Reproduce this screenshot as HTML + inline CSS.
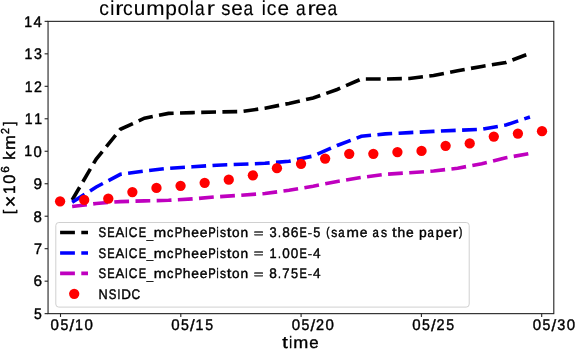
<!DOCTYPE html><html><head><meta charset="utf-8"><title>circumpolar sea ice area</title><style>html,body{margin:0;padding:0;background:#fff;overflow:hidden;}svg{display:block;will-change:transform;}text{font-family:"Liberation Sans",sans-serif;fill:#000;text-rendering:geometricPrecision;}</style></head><body>
<svg width="575" height="350" viewBox="0 0 575 350">
<rect x="0" y="0" width="575" height="350" fill="#fff"/>
<text font-size="19.52" stroke="#000" stroke-width="0.149" transform="translate(99.235,15.304) scale(0.9856,1.0341)">c</text>
<text font-size="19.52" stroke="#000" stroke-width="0.152" transform="translate(110.326,15.225) scale(0.9348,1.0379)">i</text>
<text font-size="19.52" stroke="#000" stroke-width="0.132" transform="translate(115.282,15.225) scale(1.2505,1.0266)">r</text>
<text font-size="19.52" stroke="#000" stroke-width="0.149" transform="translate(122.987,15.304) scale(0.9856,1.0341)">c</text>
<text font-size="19.52" stroke="#000" stroke-width="0.142" transform="translate(133.774,15.301) scale(1.0601,1.0529)">u</text>
<text font-size="19.52" stroke="#000" stroke-width="0.139" transform="translate(146.141,15.225) scale(1.1284,1.0266)">m</text>
<text font-size="19.52" stroke="#000" stroke-width="0.143" transform="translate(165.271,15.152) scale(1.0709,1.0205)">p</text>
<text font-size="19.52" stroke="#000" stroke-width="0.144" transform="translate(177.455,15.304) scale(1.0468,1.0341)">o</text>
<text font-size="19.52" stroke="#000" stroke-width="0.152" transform="translate(189.789,15.225) scale(0.9348,1.0379)">l</text>
<text font-size="19.52" stroke="#000" stroke-width="0.157" transform="translate(195.041,15.304) scale(0.8843,1.0341)">a</text>
<text font-size="19.52" stroke="#000" stroke-width="0.132" transform="translate(206.716,15.225) scale(1.2505,1.0266)">r</text>
<text font-size="19.52" stroke="#000" stroke-width="0.152" transform="translate(221.341,15.304) scale(0.9409,1.0369)">s</text>
<text font-size="19.52" stroke="#000" stroke-width="0.143" transform="translate(231.159,15.304) scale(1.0637,1.0341)">e</text>
<text font-size="19.52" stroke="#000" stroke-width="0.157" transform="translate(243.412,15.304) scale(0.8843,1.0341)">a</text>
<text font-size="19.52" stroke="#000" stroke-width="0.152" transform="translate(261.759,15.225) scale(0.9348,1.0379)">i</text>
<text font-size="19.52" stroke="#000" stroke-width="0.149" transform="translate(266.823,15.304) scale(0.9856,1.0341)">c</text>
<text font-size="19.52" stroke="#000" stroke-width="0.143" transform="translate(277.490,15.304) scale(1.0637,1.0341)">e</text>
<text font-size="19.52" stroke="#000" stroke-width="0.157" transform="translate(295.948,15.304) scale(0.8843,1.0341)">a</text>
<text font-size="19.52" stroke="#000" stroke-width="0.132" transform="translate(307.623,15.225) scale(1.2505,1.0266)">r</text>
<text font-size="19.52" stroke="#000" stroke-width="0.143" transform="translate(315.262,15.304) scale(1.0637,1.0341)">e</text>
<text font-size="19.52" stroke="#000" stroke-width="0.157" transform="translate(327.516,15.304) scale(0.8843,1.0341)">a</text>
<polyline points="72.15,200.00 96.24,159.00 120.34,129.30 144.43,118.20 168.53,113.40 192.62,112.60 216.72,112.00 240.81,111.60 264.91,108.20 289.00,103.40 313.10,98.00 337.19,89.50 361.29,79.00 385.38,79.00 409.48,78.50 433.57,75.50 457.67,70.80 481.76,66.40 505.86,62.50 529.95,53.30" fill="none" stroke="#000" stroke-width="3.6" stroke-dasharray="14.8 6.4"/>
<polyline points="72.15,202.30 96.24,187.00 120.34,174.30 144.43,171.00 168.53,168.30 192.62,166.80 216.72,165.20 240.81,164.30 264.91,163.30 289.00,161.30 313.10,156.00 337.19,145.50 361.29,136.30 385.38,133.90 409.48,132.60 433.57,131.40 457.67,130.30 481.76,129.30 505.86,125.00 529.95,117.00" fill="none" stroke="#0000ff" stroke-width="3.6" stroke-dasharray="14.8 6.4"/>
<polyline points="72.15,206.50 96.24,203.50 120.34,201.60 144.43,200.90 168.53,200.30 192.62,198.90 216.72,196.80 240.81,195.30 264.91,193.50 289.00,190.30 313.10,186.20 337.19,181.50 361.29,177.50 385.38,174.30 409.48,172.70 433.57,171.00 457.67,168.20 481.76,163.70 505.86,157.80 529.95,153.50" fill="none" stroke="#bf00bf" stroke-width="3.6" stroke-dasharray="14.8 6.4"/>
<circle cx="60.10" cy="201.30" r="5.15" fill="#ff0000"/>
<circle cx="84.19" cy="199.90" r="5.15" fill="#ff0000"/>
<circle cx="108.29" cy="198.70" r="5.15" fill="#ff0000"/>
<circle cx="132.38" cy="192.10" r="5.15" fill="#ff0000"/>
<circle cx="156.48" cy="187.90" r="5.15" fill="#ff0000"/>
<circle cx="180.57" cy="185.80" r="5.15" fill="#ff0000"/>
<circle cx="204.67" cy="182.80" r="5.15" fill="#ff0000"/>
<circle cx="228.76" cy="179.70" r="5.15" fill="#ff0000"/>
<circle cx="252.86" cy="175.30" r="5.15" fill="#ff0000"/>
<circle cx="276.95" cy="168.20" r="5.15" fill="#ff0000"/>
<circle cx="301.05" cy="163.80" r="5.15" fill="#ff0000"/>
<circle cx="325.14" cy="158.60" r="5.15" fill="#ff0000"/>
<circle cx="349.24" cy="153.80" r="5.15" fill="#ff0000"/>
<circle cx="373.34" cy="153.80" r="5.15" fill="#ff0000"/>
<circle cx="397.43" cy="152.10" r="5.15" fill="#ff0000"/>
<circle cx="421.52" cy="150.90" r="5.15" fill="#ff0000"/>
<circle cx="445.62" cy="145.80" r="5.15" fill="#ff0000"/>
<circle cx="469.72" cy="143.40" r="5.15" fill="#ff0000"/>
<circle cx="493.81" cy="136.60" r="5.15" fill="#ff0000"/>
<circle cx="517.90" cy="133.60" r="5.15" fill="#ff0000"/>
<circle cx="542.00" cy="131.20" r="5.15" fill="#ff0000"/>
<rect x="55.8" y="222.5" width="413.4" height="84.6" rx="3" ry="3" fill="#fff" fill-opacity="0.8" stroke="#d0d0d0" stroke-width="1"/>
<line x1="60.1" y1="232.50" x2="88" y2="232.50" stroke="#000" stroke-width="3.6" stroke-dasharray="14.8 6.4"/>
<line x1="60.1" y1="252.93" x2="88" y2="252.93" stroke="#0000ff" stroke-width="3.6" stroke-dasharray="14.8 6.4"/>
<line x1="60.1" y1="273.36" x2="88" y2="273.36" stroke="#bf00bf" stroke-width="3.6" stroke-dasharray="14.8 6.4"/>
<circle cx="74.2" cy="293.79" r="5.15" fill="#ff0000"/>
<text font-size="13.59" stroke="#000" stroke-width="0.431" transform="translate(98.577,237.356) scale(0.8403,1.0267)">S</text>
<text font-size="13.59" stroke="#000" stroke-width="0.440" transform="translate(107.255,237.300) scale(0.8124,1.0168)">E</text>
<text font-size="13.59" stroke="#000" stroke-width="0.404" transform="translate(115.494,237.300) scale(0.9630,1.0168)">A</text>
<text font-size="13.59" stroke="#000" stroke-width="0.461" transform="translate(125.113,237.300) scale(0.7420,1.0168)">I</text>
<text font-size="13.59" stroke="#000" stroke-width="0.420" transform="translate(128.872,237.356) scale(0.8818,1.0267)">C</text>
<text font-size="13.59" stroke="#000" stroke-width="0.440" transform="translate(138.635,237.300) scale(0.8124,1.0168)">E</text>
<text font-size="13.59" stroke="#000" stroke-width="0.547" transform="translate(146.834,238.787) scale(0.8413,0.6363)">_</text>
<text font-size="13.59" stroke="#000" stroke-width="0.385" transform="translate(153.832,237.300) scale(1.0974,0.9861)">m</text>
<text font-size="13.59" stroke="#000" stroke-width="0.415" transform="translate(167.037,237.360) scale(0.9351,0.9944)">c</text>
<text font-size="13.59" stroke="#000" stroke-width="0.436" transform="translate(174.708,237.300) scale(0.8291,1.0168)">P</text>
<text font-size="13.59" stroke="#000" stroke-width="0.395" transform="translate(182.771,237.300) scale(1.0159,1.0079)">h</text>
<text font-size="13.59" stroke="#000" stroke-width="0.398" transform="translate(191.270,237.360) scale(1.0174,0.9944)">e</text>
<text font-size="13.59" stroke="#000" stroke-width="0.398" transform="translate(199.631,237.360) scale(1.0174,0.9944)">e</text>
<text font-size="13.59" stroke="#000" stroke-width="0.436" transform="translate(208.239,237.300) scale(0.8291,1.0168)">P</text>
<text font-size="13.59" stroke="#000" stroke-width="0.481" transform="translate(216.381,237.300) scale(0.6873,1.0079)">i</text>
<text font-size="13.59" stroke="#000" stroke-width="0.424" transform="translate(219.901,237.360) scale(0.8911,0.9971)">s</text>
<text font-size="13.59" stroke="#000" stroke-width="0.357" transform="translate(226.695,237.191) scale(1.2213,1.0281)">t</text>
<text font-size="13.59" stroke="#000" stroke-width="0.401" transform="translate(232.089,237.360) scale(1.0007,0.9944)">o</text>
<text font-size="13.59" stroke="#000" stroke-width="0.401" transform="translate(240.549,237.300) scale(1.0089,0.9861)">n</text>
<text font-size="13.59" stroke="#000" stroke-width="0.408" transform="translate(253.783,236.755) scale(1.2279,0.7844)">=</text>
<text font-size="13.59" stroke="#000" stroke-width="0.405" transform="translate(269.408,237.356) scale(0.9503,1.0267)">3</text>
<text font-size="13.59" stroke="#000" stroke-width="0.484" transform="translate(278.005,237.300) scale(0.7729,0.8846)">.</text>
<text font-size="13.59" stroke="#000" stroke-width="0.394" transform="translate(282.161,237.356) scale(1.0028,1.0267)">8</text>
<text font-size="13.59" stroke="#000" stroke-width="0.389" transform="translate(290.717,237.356) scale(1.0272,1.0267)">6</text>
<text font-size="13.59" stroke="#000" stroke-width="0.440" transform="translate(299.552,237.300) scale(0.8124,1.0168)">E</text>
<text font-size="13.59" stroke="#000" stroke-width="0.508" transform="translate(307.796,236.117) scale(0.9574,0.6483)">-</text>
<text font-size="13.59" stroke="#000" stroke-width="0.410" transform="translate(313.155,237.357) scale(0.9328,1.0229)">5</text>
<text font-size="13.59" stroke="#000" stroke-width="0.486" transform="translate(326.129,236.491) scale(0.7343,0.9244)">(</text>
<text font-size="13.59" stroke="#000" stroke-width="0.424" transform="translate(331.282,237.360) scale(0.8911,0.9971)">s</text>
<text font-size="13.59" stroke="#000" stroke-width="0.437" transform="translate(338.293,237.360) scale(0.8419,0.9944)">a</text>
<text font-size="13.59" stroke="#000" stroke-width="0.385" transform="translate(346.534,237.300) scale(1.0974,0.9861)">m</text>
<text font-size="13.59" stroke="#000" stroke-width="0.398" transform="translate(359.691,237.360) scale(1.0174,0.9944)">e</text>
<text font-size="13.59" stroke="#000" stroke-width="0.437" transform="translate(372.540,237.360) scale(0.8419,0.9944)">a</text>
<text font-size="13.59" stroke="#000" stroke-width="0.424" transform="translate(380.937,237.360) scale(0.8911,0.9971)">s</text>
<text font-size="13.59" stroke="#000" stroke-width="0.357" transform="translate(392.052,237.191) scale(1.2213,1.0281)">t</text>
<text font-size="13.59" stroke="#000" stroke-width="0.395" transform="translate(397.543,237.300) scale(1.0159,1.0079)">h</text>
<text font-size="13.59" stroke="#000" stroke-width="0.398" transform="translate(406.042,237.360) scale(1.0174,0.9944)">e</text>
<text font-size="13.59" stroke="#000" stroke-width="0.397" transform="translate(418.899,237.331) scale(1.0225,0.9913)">p</text>
<text font-size="13.59" stroke="#000" stroke-width="0.437" transform="translate(427.517,237.360) scale(0.8419,0.9944)">a</text>
<text font-size="13.59" stroke="#000" stroke-width="0.397" transform="translate(435.853,237.331) scale(1.0225,0.9913)">p</text>
<text font-size="13.59" stroke="#000" stroke-width="0.398" transform="translate(444.304,237.360) scale(1.0174,0.9944)">e</text>
<text font-size="13.59" stroke="#000" stroke-width="0.373" transform="translate(452.686,237.300) scale(1.1635,0.9861)">r</text>
<text font-size="13.59" stroke="#000" stroke-width="0.486" transform="translate(459.119,236.491) scale(0.7343,0.9244)">)</text>
<text font-size="13.59" stroke="#000" stroke-width="0.431" transform="translate(98.577,257.786) scale(0.8403,1.0267)">S</text>
<text font-size="13.59" stroke="#000" stroke-width="0.440" transform="translate(107.255,257.730) scale(0.8124,1.0168)">E</text>
<text font-size="13.59" stroke="#000" stroke-width="0.404" transform="translate(115.494,257.730) scale(0.9630,1.0168)">A</text>
<text font-size="13.59" stroke="#000" stroke-width="0.461" transform="translate(125.113,257.730) scale(0.7420,1.0168)">I</text>
<text font-size="13.59" stroke="#000" stroke-width="0.420" transform="translate(128.872,257.786) scale(0.8818,1.0267)">C</text>
<text font-size="13.59" stroke="#000" stroke-width="0.440" transform="translate(138.635,257.730) scale(0.8124,1.0168)">E</text>
<text font-size="13.59" stroke="#000" stroke-width="0.547" transform="translate(146.834,259.217) scale(0.8413,0.6363)">_</text>
<text font-size="13.59" stroke="#000" stroke-width="0.385" transform="translate(153.832,257.730) scale(1.0974,0.9861)">m</text>
<text font-size="13.59" stroke="#000" stroke-width="0.415" transform="translate(167.037,257.790) scale(0.9351,0.9944)">c</text>
<text font-size="13.59" stroke="#000" stroke-width="0.436" transform="translate(174.708,257.730) scale(0.8291,1.0168)">P</text>
<text font-size="13.59" stroke="#000" stroke-width="0.395" transform="translate(182.771,257.730) scale(1.0159,1.0079)">h</text>
<text font-size="13.59" stroke="#000" stroke-width="0.398" transform="translate(191.270,257.790) scale(1.0174,0.9944)">e</text>
<text font-size="13.59" stroke="#000" stroke-width="0.398" transform="translate(199.631,257.790) scale(1.0174,0.9944)">e</text>
<text font-size="13.59" stroke="#000" stroke-width="0.436" transform="translate(208.239,257.730) scale(0.8291,1.0168)">P</text>
<text font-size="13.59" stroke="#000" stroke-width="0.481" transform="translate(216.381,257.730) scale(0.6873,1.0079)">i</text>
<text font-size="13.59" stroke="#000" stroke-width="0.424" transform="translate(219.901,257.790) scale(0.8911,0.9971)">s</text>
<text font-size="13.59" stroke="#000" stroke-width="0.357" transform="translate(226.695,257.621) scale(1.2213,1.0281)">t</text>
<text font-size="13.59" stroke="#000" stroke-width="0.401" transform="translate(232.089,257.790) scale(1.0007,0.9944)">o</text>
<text font-size="13.59" stroke="#000" stroke-width="0.401" transform="translate(240.549,257.730) scale(1.0089,0.9861)">n</text>
<text font-size="13.59" stroke="#000" stroke-width="0.408" transform="translate(253.783,257.185) scale(1.2279,0.7844)">=</text>
<text font-size="13.59" stroke="#000" stroke-width="0.409" transform="translate(269.386,257.730) scale(0.9385,1.0168)">1</text>
<text font-size="13.59" stroke="#000" stroke-width="0.484" transform="translate(278.005,257.730) scale(0.7729,0.8846)">.</text>
<text font-size="13.59" stroke="#000" stroke-width="0.396" transform="translate(282.200,257.786) scale(0.9926,1.0267)">0</text>
<text font-size="13.59" stroke="#000" stroke-width="0.396" transform="translate(290.846,257.786) scale(0.9926,1.0267)">0</text>
<text font-size="13.59" stroke="#000" stroke-width="0.440" transform="translate(299.552,257.730) scale(0.8124,1.0168)">E</text>
<text font-size="13.59" stroke="#000" stroke-width="0.508" transform="translate(307.796,256.547) scale(0.9574,0.6483)">-</text>
<text font-size="13.59" stroke="#000" stroke-width="0.397" transform="translate(312.967,257.730) scale(0.9959,1.0168)">4</text>
<text font-size="13.59" stroke="#000" stroke-width="0.431" transform="translate(98.577,278.216) scale(0.8403,1.0267)">S</text>
<text font-size="13.59" stroke="#000" stroke-width="0.440" transform="translate(107.255,278.160) scale(0.8124,1.0168)">E</text>
<text font-size="13.59" stroke="#000" stroke-width="0.404" transform="translate(115.494,278.160) scale(0.9630,1.0168)">A</text>
<text font-size="13.59" stroke="#000" stroke-width="0.461" transform="translate(125.113,278.160) scale(0.7420,1.0168)">I</text>
<text font-size="13.59" stroke="#000" stroke-width="0.420" transform="translate(128.872,278.216) scale(0.8818,1.0267)">C</text>
<text font-size="13.59" stroke="#000" stroke-width="0.440" transform="translate(138.635,278.160) scale(0.8124,1.0168)">E</text>
<text font-size="13.59" stroke="#000" stroke-width="0.547" transform="translate(146.834,279.647) scale(0.8413,0.6363)">_</text>
<text font-size="13.59" stroke="#000" stroke-width="0.385" transform="translate(153.832,278.160) scale(1.0974,0.9861)">m</text>
<text font-size="13.59" stroke="#000" stroke-width="0.415" transform="translate(167.037,278.220) scale(0.9351,0.9944)">c</text>
<text font-size="13.59" stroke="#000" stroke-width="0.436" transform="translate(174.708,278.160) scale(0.8291,1.0168)">P</text>
<text font-size="13.59" stroke="#000" stroke-width="0.395" transform="translate(182.771,278.160) scale(1.0159,1.0079)">h</text>
<text font-size="13.59" stroke="#000" stroke-width="0.398" transform="translate(191.270,278.220) scale(1.0174,0.9944)">e</text>
<text font-size="13.59" stroke="#000" stroke-width="0.398" transform="translate(199.631,278.220) scale(1.0174,0.9944)">e</text>
<text font-size="13.59" stroke="#000" stroke-width="0.436" transform="translate(208.239,278.160) scale(0.8291,1.0168)">P</text>
<text font-size="13.59" stroke="#000" stroke-width="0.481" transform="translate(216.381,278.160) scale(0.6873,1.0079)">i</text>
<text font-size="13.59" stroke="#000" stroke-width="0.424" transform="translate(219.901,278.220) scale(0.8911,0.9971)">s</text>
<text font-size="13.59" stroke="#000" stroke-width="0.357" transform="translate(226.695,278.051) scale(1.2213,1.0281)">t</text>
<text font-size="13.59" stroke="#000" stroke-width="0.401" transform="translate(232.089,278.220) scale(1.0007,0.9944)">o</text>
<text font-size="13.59" stroke="#000" stroke-width="0.401" transform="translate(240.549,278.160) scale(1.0089,0.9861)">n</text>
<text font-size="13.59" stroke="#000" stroke-width="0.408" transform="translate(253.783,277.615) scale(1.2279,0.7844)">=</text>
<text font-size="13.59" stroke="#000" stroke-width="0.394" transform="translate(269.195,278.216) scale(1.0028,1.0267)">8</text>
<text font-size="13.59" stroke="#000" stroke-width="0.484" transform="translate(278.005,278.160) scale(0.7729,0.8846)">.</text>
<text font-size="13.59" stroke="#000" stroke-width="0.404" transform="translate(282.272,278.160) scale(0.9664,1.0168)">7</text>
<text font-size="13.59" stroke="#000" stroke-width="0.410" transform="translate(291.018,278.217) scale(0.9328,1.0229)">5</text>
<text font-size="13.59" stroke="#000" stroke-width="0.440" transform="translate(299.552,278.160) scale(0.8124,1.0168)">E</text>
<text font-size="13.59" stroke="#000" stroke-width="0.508" transform="translate(307.796,276.977) scale(0.9574,0.6483)">-</text>
<text font-size="13.59" stroke="#000" stroke-width="0.397" transform="translate(312.967,278.160) scale(0.9959,1.0168)">4</text>
<text font-size="13.59" stroke="#000" stroke-width="0.410" transform="translate(98.491,298.590) scale(0.9351,1.0168)">N</text>
<text font-size="13.59" stroke="#000" stroke-width="0.431" transform="translate(108.743,298.646) scale(0.8403,1.0267)">S</text>
<text font-size="13.59" stroke="#000" stroke-width="0.461" transform="translate(117.396,298.590) scale(0.7420,1.0168)">I</text>
<text font-size="13.59" stroke="#000" stroke-width="0.400" transform="translate(121.236,298.590) scale(0.9849,1.0168)">D</text>
<text font-size="13.59" stroke="#000" stroke-width="0.420" transform="translate(131.620,298.646) scale(0.8818,1.0267)">C</text>
<rect x="48.05" y="21.35" width="505.75" height="292.30" fill="none" stroke="#222" stroke-width="1.1"/>
<line x1="44.6" y1="313.65" x2="48" y2="313.65" stroke="#222" stroke-width="1.1"/>
<text font-size="14.90" stroke="#000" stroke-width="0.408" transform="translate(34.112,318.943) scale(0.9382,1.0266)">5</text>
<line x1="44.6" y1="281.17" x2="48" y2="281.17" stroke="#222" stroke-width="1.1"/>
<text font-size="14.90" stroke="#000" stroke-width="0.388" transform="translate(33.418,286.464) scale(1.0328,1.0304)">6</text>
<line x1="44.6" y1="248.69" x2="48" y2="248.69" stroke="#222" stroke-width="1.1"/>
<text font-size="14.90" stroke="#000" stroke-width="0.402" transform="translate(33.973,253.925) scale(0.9721,1.0206)">7</text>
<line x1="44.6" y1="216.22" x2="48" y2="216.22" stroke="#222" stroke-width="1.1"/>
<text font-size="14.90" stroke="#000" stroke-width="0.392" transform="translate(33.597,221.509) scale(1.0083,1.0304)">8</text>
<line x1="44.6" y1="183.74" x2="48" y2="183.74" stroke="#222" stroke-width="1.1"/>
<text font-size="14.90" stroke="#000" stroke-width="0.388" transform="translate(33.486,189.031) scale(1.0307,1.0304)">9</text>
<line x1="44.6" y1="151.26" x2="48" y2="151.26" stroke="#222" stroke-width="1.1"/>
<text font-size="14.90" stroke="#000" stroke-width="0.407" transform="translate(24.295,156.492) scale(0.9445,1.0206)">1</text>
<text font-size="14.90" stroke="#000" stroke-width="0.394" transform="translate(33.611,156.553) scale(0.9980,1.0304)">0</text>
<line x1="44.6" y1="118.78" x2="48" y2="118.78" stroke="#222" stroke-width="1.1"/>
<text font-size="14.90" stroke="#000" stroke-width="0.407" transform="translate(24.680,124.014) scale(0.9445,1.0206)">1</text>
<text font-size="14.90" stroke="#000" stroke-width="0.407" transform="translate(34.160,124.014) scale(0.9445,1.0206)">1</text>
<line x1="44.6" y1="86.31" x2="48" y2="86.31" stroke="#222" stroke-width="1.1"/>
<text font-size="14.90" stroke="#000" stroke-width="0.407" transform="translate(24.797,91.537) scale(0.9445,1.0206)">1</text>
<text font-size="14.90" stroke="#000" stroke-width="0.404" transform="translate(34.086,91.537) scale(0.9571,1.0245)">2</text>
<line x1="44.6" y1="53.83" x2="48" y2="53.83" stroke="#222" stroke-width="1.1"/>
<text font-size="14.90" stroke="#000" stroke-width="0.407" transform="translate(24.498,59.059) scale(0.9445,1.0206)">1</text>
<text font-size="14.90" stroke="#000" stroke-width="0.403" transform="translate(34.006,59.120) scale(0.9557,1.0304)">3</text>
<line x1="44.6" y1="21.35" x2="48" y2="21.35" stroke="#222" stroke-width="1.1"/>
<text font-size="14.90" stroke="#000" stroke-width="0.407" transform="translate(24.142,26.581) scale(0.9445,1.0206)">1</text>
<text font-size="14.90" stroke="#000" stroke-width="0.396" transform="translate(33.442,26.581) scale(1.0010,1.0206)">4</text>
<line x1="60.50" y1="313.65" x2="60.50" y2="316.95" stroke="#222" stroke-width="1.1"/>
<text font-size="15.07" stroke="#000" stroke-width="0.394" transform="translate(50.606,330.162) scale(0.9986,1.0308)">0</text>
<text font-size="15.07" stroke="#000" stroke-width="0.407" transform="translate(60.384,330.162) scale(0.9389,1.0270)">5</text>
<text font-size="15.07" stroke="#000" stroke-width="0.364" transform="translate(69.376,331.339) scale(1.1171,1.0829)">/</text>
<text font-size="15.07" stroke="#000" stroke-width="0.407" transform="translate(75.024,330.100) scale(0.9452,1.0210)">1</text>
<text font-size="15.07" stroke="#000" stroke-width="0.394" transform="translate(84.447,330.162) scale(0.9986,1.0308)">0</text>
<line x1="180.80" y1="313.65" x2="180.80" y2="316.95" stroke="#222" stroke-width="1.1"/>
<text font-size="15.07" stroke="#000" stroke-width="0.394" transform="translate(171.156,330.162) scale(0.9986,1.0308)">0</text>
<text font-size="15.07" stroke="#000" stroke-width="0.407" transform="translate(180.934,330.162) scale(0.9389,1.0270)">5</text>
<text font-size="15.07" stroke="#000" stroke-width="0.364" transform="translate(189.926,331.339) scale(1.1171,1.0829)">/</text>
<text font-size="15.07" stroke="#000" stroke-width="0.407" transform="translate(195.574,330.100) scale(0.9452,1.0210)">1</text>
<text font-size="15.07" stroke="#000" stroke-width="0.407" transform="translate(205.187,330.162) scale(0.9389,1.0270)">5</text>
<line x1="301.10" y1="313.65" x2="301.10" y2="316.95" stroke="#222" stroke-width="1.1"/>
<text font-size="15.07" stroke="#000" stroke-width="0.394" transform="translate(291.706,330.162) scale(0.9986,1.0308)">0</text>
<text font-size="15.07" stroke="#000" stroke-width="0.407" transform="translate(301.484,330.162) scale(0.9389,1.0270)">5</text>
<text font-size="15.07" stroke="#000" stroke-width="0.364" transform="translate(310.476,331.339) scale(1.1171,1.0829)">/</text>
<text font-size="15.07" stroke="#000" stroke-width="0.404" transform="translate(315.931,330.100) scale(0.9578,1.0249)">2</text>
<text font-size="15.07" stroke="#000" stroke-width="0.394" transform="translate(325.547,330.162) scale(0.9986,1.0308)">0</text>
<line x1="421.40" y1="313.65" x2="421.40" y2="316.95" stroke="#222" stroke-width="1.1"/>
<text font-size="15.07" stroke="#000" stroke-width="0.394" transform="translate(412.256,330.162) scale(0.9986,1.0308)">0</text>
<text font-size="15.07" stroke="#000" stroke-width="0.407" transform="translate(422.034,330.162) scale(0.9389,1.0270)">5</text>
<text font-size="15.07" stroke="#000" stroke-width="0.364" transform="translate(431.026,331.339) scale(1.1171,1.0829)">/</text>
<text font-size="15.07" stroke="#000" stroke-width="0.404" transform="translate(436.481,330.100) scale(0.9578,1.0249)">2</text>
<text font-size="15.07" stroke="#000" stroke-width="0.407" transform="translate(446.287,330.162) scale(0.9389,1.0270)">5</text>
<line x1="541.70" y1="313.65" x2="541.70" y2="316.95" stroke="#222" stroke-width="1.1"/>
<text font-size="15.07" stroke="#000" stroke-width="0.394" transform="translate(532.806,330.162) scale(0.9986,1.0308)">0</text>
<text font-size="15.07" stroke="#000" stroke-width="0.407" transform="translate(542.584,330.162) scale(0.9389,1.0270)">5</text>
<text font-size="15.07" stroke="#000" stroke-width="0.364" transform="translate(551.576,331.339) scale(1.1171,1.0829)">/</text>
<text font-size="15.07" stroke="#000" stroke-width="0.403" transform="translate(557.252,330.162) scale(0.9564,1.0308)">3</text>
<text font-size="15.07" stroke="#000" stroke-width="0.394" transform="translate(566.647,330.162) scale(0.9986,1.0308)">0</text>
<text font-size="16.33" stroke="#000" stroke-width="0.353" transform="translate(282.272,348.168) scale(1.2406,1.0357)">t</text>
<text font-size="16.33" stroke="#000" stroke-width="0.461" transform="translate(289.270,348.300) scale(0.7435,1.0147)">i</text>
<text font-size="16.33" stroke="#000" stroke-width="0.382" transform="translate(293.365,348.300) scale(1.1044,0.9953)">m</text>
<text font-size="16.33" stroke="#000" stroke-width="0.394" transform="translate(309.175,348.371) scale(1.0279,1.0034)">e</text>
<g transform="translate(15.1,213.5) rotate(-90)">
<text font-size="16.33" stroke="#000" stroke-width="0.433" transform="translate(-0.410,-1.200) scale(0.9185,0.9302)">[</text>
<text font-size="16.33" stroke="#000" stroke-width="0.330" transform="translate(6.225,1.472) scale(1.2101,1.2121)">×</text>
<text font-size="16.33" stroke="#000" stroke-width="0.406" transform="translate(19.474,-0.200) scale(0.9500,1.0240)">1</text>
<text font-size="16.33" stroke="#000" stroke-width="0.393" transform="translate(29.646,-0.134) scale(1.0029,1.0337)">0</text>
<text font-size="11.43" stroke="#000" stroke-width="0.393" transform="translate(40.783,-6.352) scale(1.0152,1.0189)">6</text>
<text font-size="16.33" stroke="#000" stroke-width="0.385" transform="translate(53.619,-0.200) scale(1.0617,1.0147)">k</text>
<text font-size="16.33" stroke="#000" stroke-width="0.382" transform="translate(63.484,-0.200) scale(1.1044,0.9953)">m</text>
<text font-size="11.43" stroke="#000" stroke-width="0.410" transform="translate(79.614,-6.300) scale(0.9393,1.0128)">2</text>
<text font-size="16.33" stroke="#000" stroke-width="0.433" transform="translate(88.092,-1.200) scale(0.9185,0.9302)">]</text>
</g>
</svg></body></html>
